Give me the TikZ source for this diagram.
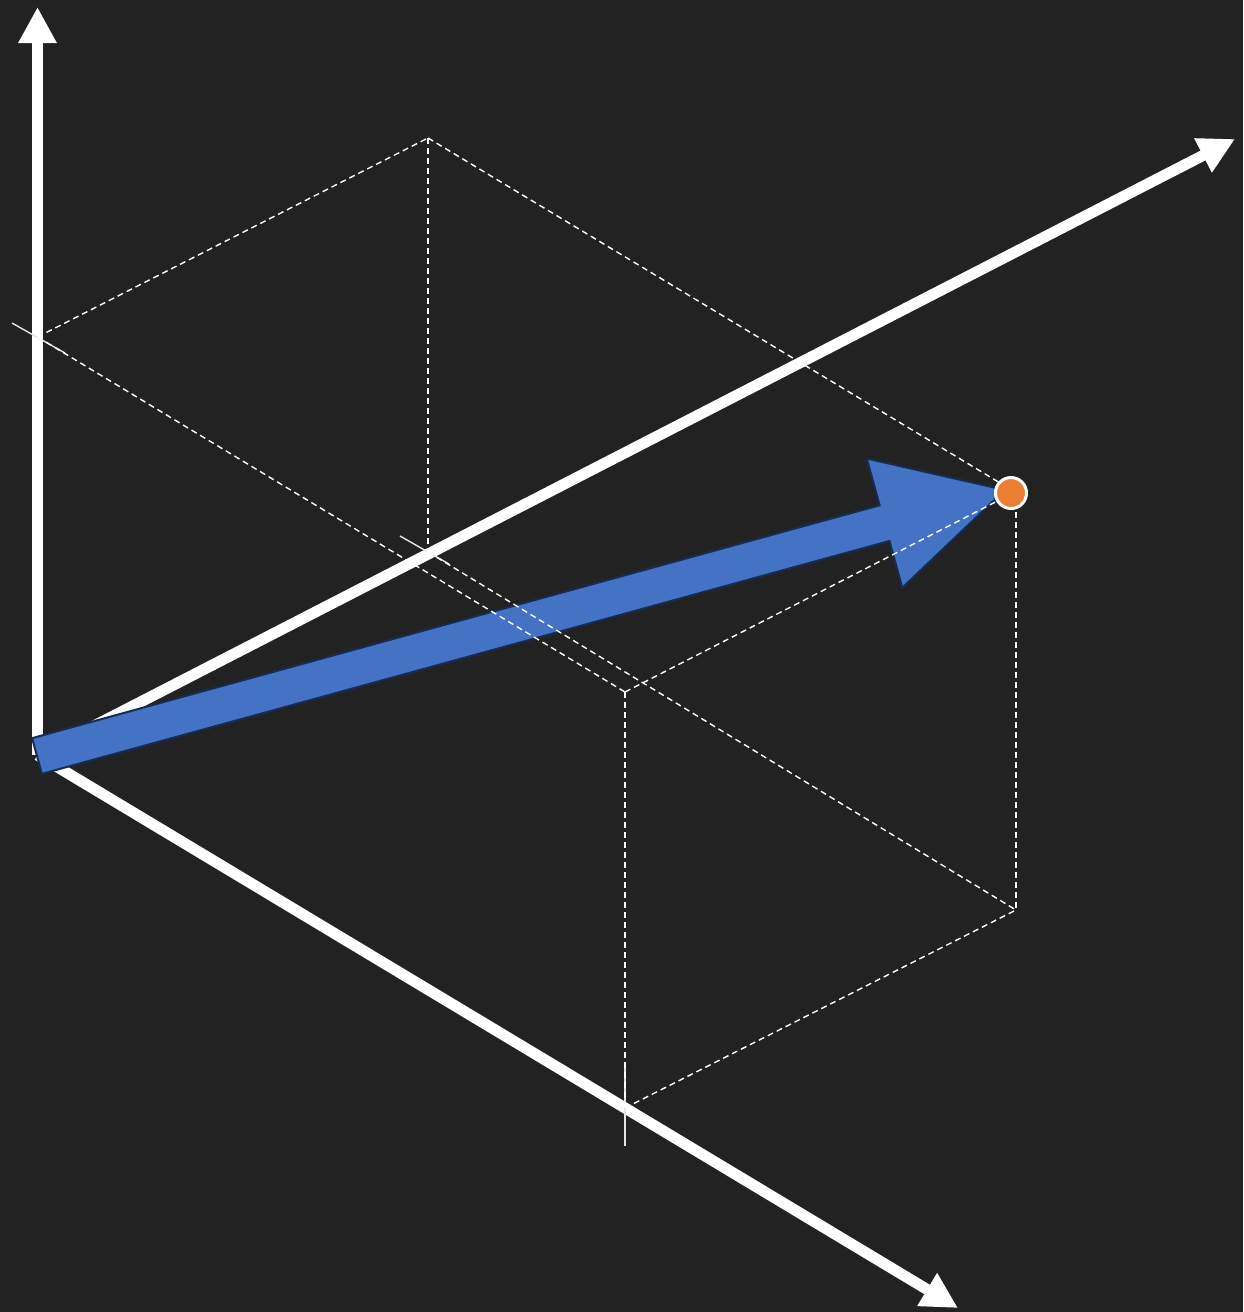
\documentclass[tikz,border=0pt]{standalone}
\usetikzlibrary{arrows.meta,calc}
\definecolor{bg}{RGB}{34,34,34}
\definecolor{vecblue}{RGB}{68,114,196}
\definecolor{vecedge}{RGB}{23,44,81}
\definecolor{ptorange}{RGB}{237,125,49}
\begin{document}
\begin{tikzpicture}[x=1pt,y=-1pt,
  axis/.style={white,line width=11pt,-{Triangle[length=36pt,width=36pt]}},
  boxedge/.style={white,line width=1.4pt,dash pattern=on 6pt off 4pt},
  tickmark/.style={white!90!black,line width=1.4pt},
  vecarrow/.style={fill=vecblue,draw=vecedge,line width=2pt,line join=miter},
  pointdot/.style={circle,fill=ptorange,draw=white,line width=3pt,minimum size=31pt,inner sep=0pt}]
\fill[bg] (0,0) rectangle (1243,1312);
\useasboundingbox (0,0) rectangle (1243,1312);
% axes
\coordinate (O) at (37.5,755);
\coordinate (Yt) at (37.5,7);
\coordinate (Bt) at (1235,139);
\coordinate (At) at (958,1308);
\draw[axis] (O) -- (Yt);
\draw[axis] (O) -- (Bt);
\draw[axis] (O) -- (At);
% box vertices
\coordinate (C) at (37.5,337);
\coordinate (T) at (428,138);
\coordinate (B) at (428,552);
\coordinate (AC) at (625,692);
\coordinate (D) at (1015,492);
\coordinate (AB) at (1016,910);
\coordinate (A) at (625,1108);
\coordinate (Dv) at (1016,492);
% ticks
\coordinate (c1) at (12,323);
\coordinate (c2) at (65,353);
\coordinate (b1) at (400,536);
\coordinate (b2) at (449,564);
\coordinate (a1) at (625,1067);
\coordinate (a2) at (625,1146);
\draw[tickmark] (c1) -- (c2);
\draw[tickmark] (b1) -- (b2);
\draw[tickmark] (a1) -- (a2);
% vector
\coordinate (S) at (37,756);
\coordinate (P) at (1005,490);
\coordinate (M) at ($(S)!879pt!(P)$);
\draw[vecarrow]
  ($(S)!18.5pt!90:(P)$) -- ($(M)!18.5pt!-90:(S)$) -- ($(M)!67pt!-90:(S)$) -- (P)
  -- ($(M)!67pt!90:(S)$) -- ($(M)!18.5pt!90:(S)$) -- ($(S)!18.5pt!-90:(P)$) -- cycle;
% dashed box edges
\draw[boxedge] (C) -- (T);
\draw[boxedge] (T) -- (D);
\draw[boxedge] (T) -- (B);
\draw[boxedge] (C) -- (AC);
\draw[boxedge] (B) -- (AB);
\draw[boxedge] (AC) -- (D);
\draw[boxedge] (AC) -- (A);
\draw[boxedge] (Dv) -- (AB);
\draw[boxedge] (A) -- (AB);
% point
\node[pointdot] (pt) at (1011,493) {};
\end{tikzpicture}
\end{document}
